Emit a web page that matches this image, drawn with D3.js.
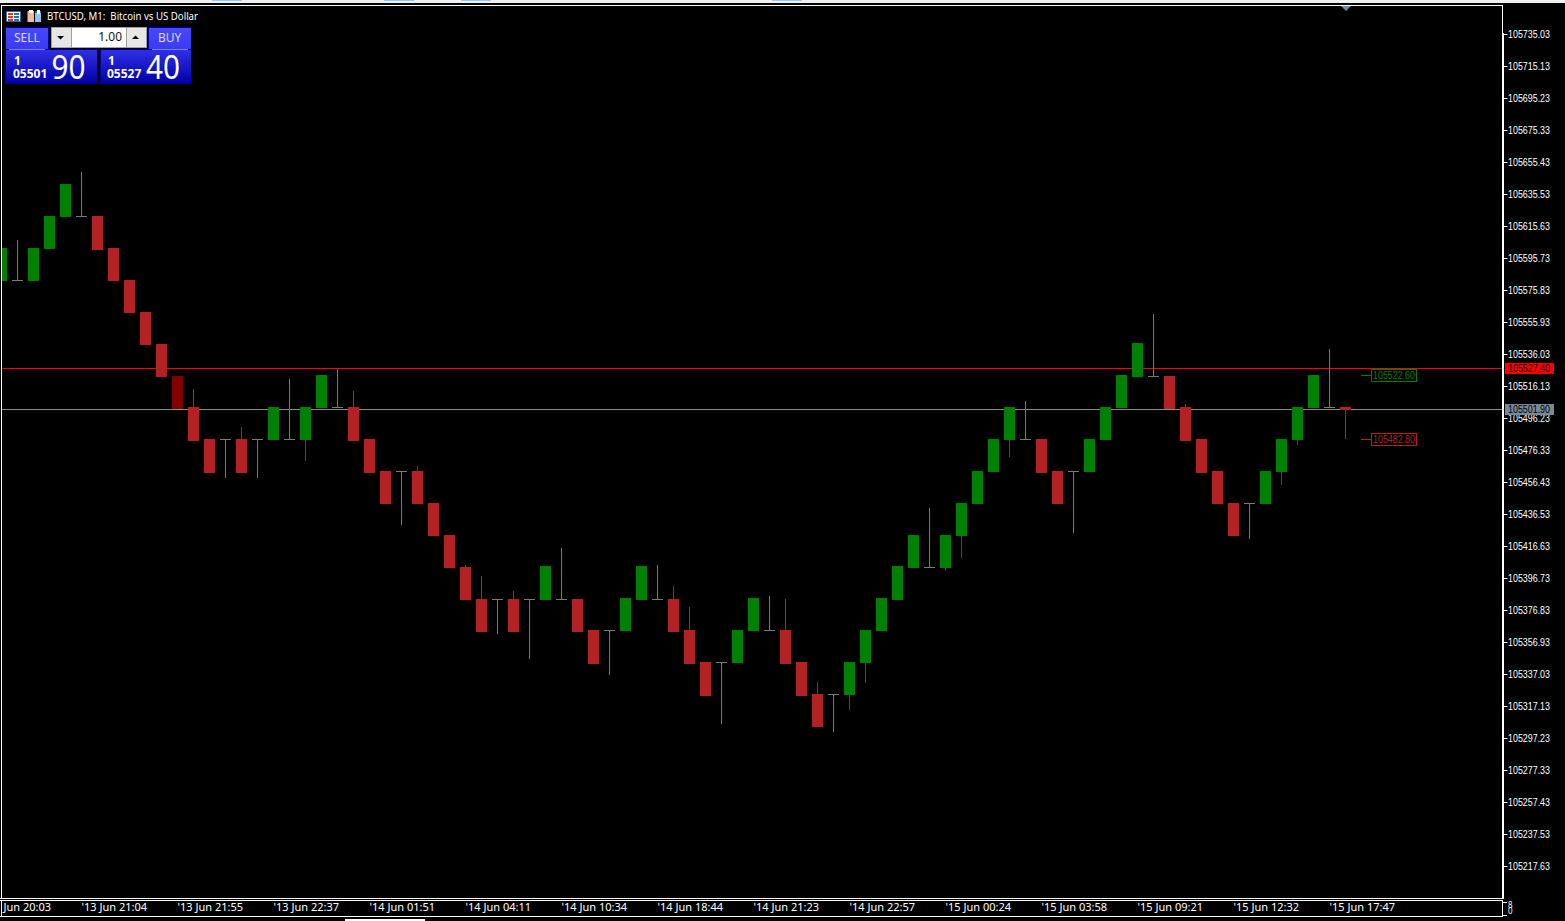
<!DOCTYPE html>
<html>
<head>
<meta charset="utf-8">
<title>BTCUSD, M1</title>
<script src="https://cdn.jsdelivr.net/npm/d3@7"></script>
<style>
  html, body { margin: 0; padding: 0; background: #000; overflow: hidden; }
  svg { display: block; }
  text { font-family: "Noto Sans", "Open Sans", sans-serif; }
  .narrow { font-family: "Liberation Sans", sans-serif; font-size: 11px; }
</style>
</head>
<body>
<svg id="chart" width="1565" height="921"></svg>
<script>
// candles, oldest first
const opens = [105581.43,105582.05,105581.43,105601.33,105621.23,105621.85,105621.85,105601.95,105582.05,105562.15,
  105542.25,105522.35,105503.07,105483.17,105483.17,105483.17,105483.17,105482.55,105483.17,105482.55,
  105502.45,105503.07,105503.07,105483.17,105463.27,105463.27,105463.27,105443.37,105423.47,105403.57,
  105383.67,105383.67,105383.67,105383.67,105383.05,105383.67,105383.67,105364.39,105364.39,105363.77,
  105383.05,105383.67,105383.67,105364.39,105344.49,105344.49,105343.87,105363.77,105364.39,105364.39,
  105344.49,105324.59,105324.59,105323.97,105343.87,105363.77,105383.05,105402.95,105403.57,105402.95,
  105422.85,105442.75,105462.65,105482.55,105483.17,105483.17,105463.27,105463.27,105462.65,105482.55,
  105502.45,105521.72,105522.35,105522.35,105503.07,105483.17,105463.27,105443.37,105443.37,105442.75,
  105462.65,105482.55,105502.45,105503.07,105503.07];
const highs = [105601.95,105606.92,105601.95,105621.85,105641.75,105649.21,105621.85,105601.95,105582.05,105562.15,
  105542.25,105522.35,105514.26,105483.17,105483.17,105490.64,105483.17,105503.07,105520.48,105503.07,
  105522.97,105526.70,105513.02,105483.17,105463.27,105463.27,105466.38,105443.37,105423.47,105404.81,
  105397.97,105383.67,105388.65,105383.67,105404.19,105415.39,105383.67,105364.39,105364.39,105384.29,
  105404.19,105404.81,105391.75,105378.70,105344.49,105344.49,105364.39,105384.29,105385.54,105383.67,
  105344.49,105332.05,105324.59,105344.49,105364.39,105384.29,105404.19,105423.47,105440.26,105423.47,
  105443.37,105463.27,105483.17,105503.07,105506.80,105483.17,105463.27,105463.27,105483.17,105503.07,
  105522.97,105542.87,105560.90,105522.35,105504.94,105483.17,105463.27,105443.37,105443.37,105463.27,
  105483.17,105503.07,105522.97,105539.14,105503.07];
const lows = [105581.43,105582.05,105581.43,105601.33,105621.23,105621.85,105600.70,105581.43,105561.53,105541.63,
  105521.72,105501.83,105481.93,105462.03,105458.92,105462.03,105458.92,105482.55,105483.17,105469.49,
  105502.45,105503.07,105481.93,105462.03,105442.75,105429.69,105442.75,105422.85,105402.95,105383.05,
  105363.15,105361.90,105363.15,105346.36,105383.05,105383.67,105363.15,105343.25,105336.41,105363.77,
  105383.05,105383.67,105363.15,105343.25,105323.35,105305.94,105343.87,105363.77,105364.39,105343.25,
  105323.35,105304.07,105300.96,105314.64,105331.43,105363.77,105383.05,105402.95,105403.57,105401.08,
  105409.17,105442.75,105462.65,105471.98,105483.17,105462.03,105442.75,105424.71,105462.65,105482.55,
  105502.45,105521.72,105522.35,105501.83,105481.93,105462.03,105442.75,105422.85,105420.98,105442.75,
  105454.56,105479.44,105502.45,105503.07,105483.17];
const closes = [105601.95,105582.05,105601.95,105621.85,105641.75,105621.85,105600.70,105581.43,105561.53,105541.63,
  105521.72,105501.83,105481.93,105462.03,105483.17,105462.03,105483.17,105503.07,105483.17,105503.07,
  105522.97,105503.07,105481.93,105462.03,105442.75,105463.27,105442.75,105422.85,105402.95,105383.05,
  105363.15,105383.67,105363.15,105383.67,105404.19,105383.67,105363.15,105343.25,105364.39,105384.29,
  105404.19,105383.67,105363.15,105343.25,105323.35,105344.49,105364.39,105384.29,105364.39,105343.25,
  105323.35,105304.07,105324.59,105344.49,105364.39,105384.29,105404.19,105423.47,105403.57,105423.47,
  105443.37,105463.27,105483.17,105503.07,105483.17,105462.03,105442.75,105463.27,105483.17,105503.07,
  105522.97,105542.87,105522.35,105501.83,105481.93,105462.03,105442.75,105422.85,105443.37,105463.27,
  105483.17,105503.07,105522.97,105503.07,105501.20];
const selectedBars = [11];

const priceTicks = [105735.03,105715.13,105695.23,105675.33,105655.43,105635.53,105615.63,105595.73,105575.83,
  105555.93,105536.03,105516.13,105496.23,105476.33,105456.43,105436.53,105416.63,105396.73,105376.83,
  105356.93,105337.03,105317.13,105297.23,105277.33,105257.43,105237.53,105217.63];

const timeLabels = ["'13 Jun 20:03","'13 Jun 21:04","'13 Jun 21:55","'13 Jun 22:37","'14 Jun 01:51","'14 Jun 04:11",
  "'14 Jun 10:34","'14 Jun 18:44","'14 Jun 21:23","'14 Jun 22:57","'15 Jun 00:24","'15 Jun 03:58","'15 Jun 09:21",
  "'15 Jun 12:32","'15 Jun 17:47"];
const timeLabelBars = [-1,5,11,17,23,29,35,41,47,53,59,65,71,77,83];

const askPrice = 105527.40, bidPrice = 105501.90;
const barHigh = 105522.60, barLow = 105482.80;

const GREEN = '#008000', RED = '#b22222', DARKRED = '#800000', DOJI = '#787878';
const PRICE_TEXT_WIDTH = 42; // the terminal font is narrower than anything installed

const svg = d3.select('#chart');

const xScale = d3.scaleLinear().domain([0, 84]).range([1.5, 1345.5]);
const yScale = d3.scaleLinear().domain([105735.03, 105217.63]).range([34, 866]);

// top strip of the terminal window
svg.append('rect').attr('width', 1565).attr('height', 3).attr('fill', '#f0f0f0');
svg.selectAll('.tab').data([212, 384, 461, 772]).join('rect')
    .attr('class', 'tab').attr('x', d => d).attr('width', 30).attr('height', 1).attr('fill', '#90c8f6');

// plot area clip
svg.append('clipPath').attr('id', 'plot').append('rect')
    .attr('x', 2).attr('y', 6).attr('width', 1500).attr('height', 892);
svg.append('clipPath').attr('id', 'timeClip').append('rect')
    .attr('x', 2).attr('y', 901).attr('width', 1500).attr('height', 15);

const plot = svg.append('g').attr('clip-path', 'url(#plot)');

// ask and bid lines sit behind the candles
plot.append('rect').attr('x', 2).attr('width', 1500).attr('height', 1)
    .attr('y', Math.round(yScale(askPrice))).attr('fill', '#ff0000');
plot.append('rect').attr('x', 2).attr('width', 1500).attr('height', 1)
    .attr('y', Math.round(yScale(bidPrice))).attr('fill', '#8a8f94');

const candles = opens.map((o, i) => ({i: i, o: o, h: highs[i], l: lows[i], c: closes[i]}));
const candleColor = d => {
    if (d.o === d.c) return DOJI;
    if (selectedBars.includes(d.i)) return DARKRED;
    return d.c > d.o ? GREEN : RED;
};

// wicks
plot.selectAll('.wick').data(candles).join('rect')
    .attr('class', 'wick')
    .attr('x', d => xScale(d.i) - 0.5)
    .attr('width', 1)
    .attr('y', d => Math.round(yScale(d.h)))
    .attr('height', d => Math.round(yScale(d.l)) - Math.round(yScale(d.h)))
    .attr('fill', candleColor);

// bodies, a doji is one pixel row
plot.selectAll('.body').data(candles).join('rect')
    .attr('class', 'body')
    .attr('x', d => xScale(d.i) - 5.5)
    .attr('width', 11)
    .attr('y', d => Math.round(yScale(Math.max(d.o, d.c))))
    .attr('height', d => Math.max(1, Math.round(yScale(Math.min(d.o, d.c))) - Math.round(yScale(Math.max(d.o, d.c)))))
    .attr('fill', candleColor);

// frame
const white = '#ffffff';
const line = (x, y, w, h, fill) => svg.append('rect')
    .attr('x', x).attr('y', y).attr('width', w).attr('height', h).attr('fill', fill || white);
line(1, 5, 1502, 1);
line(1, 5, 1, 893);
line(1502, 5, 1, 28);
line(1502, 33, 2, 866);
line(0, 898, 1504, 1);
line(0, 900, 1503, 1);
line(1, 900, 1, 17);
line(0, 916, 1503, 1);
line(1502, 900, 1, 17);
line(345, 919, 80, 2);

// marker at the top of the chart
svg.append('path').attr('d', 'M1341,6 L1351,6 L1346,11 Z').attr('fill', '#778899');

// price axis
const yAxis = d3.axisRight(yScale)
    .tickValues(priceTicks)
    .tickFormat(d3.format('.2f'))
    .tickSize(4)
    .tickPadding(0.5);
const yAxisG = svg.append('g').attr('transform', 'translate(1503.5,0)').call(yAxis);
yAxisG.select('.domain').remove();
yAxisG.selectAll('.tick line').attr('stroke', white);
yAxisG.selectAll('.tick text')
    .attr('class', 'narrow').attr('fill', white)
    .attr('textLength', PRICE_TEXT_WIDTH).attr('lengthAdjust', 'spacingAndGlyphs');

// time axis
const xAxis = d3.axisBottom(xScale)
    .tickValues(timeLabelBars)
    .tickFormat((d, i) => timeLabels[i])
    .tickSize(0)
    .tickPadding(0);
const xAxisG = svg.append('g').attr('clip-path', 'url(#timeClip)')
    .append('g').attr('transform', 'translate(0,901)').call(xAxis);
xAxisG.select('.domain').remove();
xAxisG.selectAll('.tick text')
    .attr('text-anchor', 'start')
    .attr('x', -0.5)
    .attr('dy', '0.95em')
    .attr('fill', white)
    .style('font-size', '11px');

// corner of the two axes
line(1503, 902, 4, 1);
line(1503, 915, 4, 1);
svg.selectAll('.corner').data(['8', '0']).join('text')
    .attr('class', 'corner')
    .attr('x', 1508).attr('y', (d, i) => 908 + i * 6)
    .attr('fill', white).style('font-size', '8px').text(d => d);

// ask and bid labels on the price axis
const priceText = (x, y, fill, price) => svg.append('text')
    .attr('class', 'narrow').attr('x', x).attr('y', y).attr('fill', fill)
    .attr('textLength', PRICE_TEXT_WIDTH).attr('lengthAdjust', 'spacingAndGlyphs')
    .text(price.toFixed(2));
const priceTag = (price, fill) => {
    const y = Math.round(yScale(price));
    svg.append('rect').attr('x', 1505).attr('y', y - 5).attr('width', 49).attr('height', 11).attr('fill', fill);
    priceText(1508, y + 4, '#000', price);
};
priceTag(askPrice, '#ff0000');
priceTag(bidPrice, '#778899');

// high and low tags next to the last bar
const rangeTag = (price, color) => {
    const y = Math.floor(yScale(price));
    line(1361, y, 10, 1, color);
    svg.append('rect').attr('x', 1371.5).attr('y', y - 5.5).attr('width', 45).attr('height', 12)
        .attr('fill', '#000').attr('stroke', color);
    priceText(1373, y + 4, color, price);
};
rangeTag(barHigh, GREEN);
rangeTag(barLow, RED);

// chart title and icons
svg.append('text').attr('x', 47).attr('y', 20).attr('fill', white).style('font-size', '10.5px')
    .style('white-space', 'pre')
    .attr('textLength', 151).attr('lengthAdjust', 'spacingAndGlyphs')
    .text('BTCUSD, M1:  Bitcoin vs US Dollar');
line(6, 11, 15, 11, '#2a6db0');
line(7, 12, 13, 9, white);
[13, 16, 19].forEach(y => {
    line(8, y, 5, 2, '#e0352b');
    line(14, y, 5, 2, '#2a6db0');
});
line(27, 11, 7, 11, '#f4b6a8');
line(27, 11, 1, 11, '#d0392b');
line(29, 10, 4, 3, white);
line(35, 11, 6, 11, '#8cc4ea');
line(35, 11, 6, 2, '#1f6fb5');
line(37, 10, 3, 4, white);

// one click trading panel
const defs = svg.append('defs');
const addGradient = (id, top, bottom) => {
    const g = defs.append('linearGradient').attr('id', id).attr('x1', 0).attr('y1', 0).attr('x2', 0).attr('y2', 1);
    g.append('stop').attr('offset', 0).attr('stop-color', top);
    g.append('stop').attr('offset', 1).attr('stop-color', bottom);
};
addGradient('btnTop', '#4848ff', '#3a3af0');
addGradient('btnLow', '#3030e6', '#0000a8');

const tradeBox = (x, y, w, h, fill) => svg.append('rect')
    .attr('x', x + 0.5).attr('y', y + 0.5).attr('width', w - 1).attr('height', h - 1)
    .attr('fill', fill).attr('stroke', '#000090');

const btnText = (x, y, size, txt, weight, anchor, fill) => svg.append('text')
    .attr('x', x).attr('y', y).attr('fill', fill || white)
    .attr('text-anchor', anchor || 'start')
    .style('font-size', size + 'px').style('font-weight', weight || 400).text(txt);

const sideBlock = (topX, topW, lowX, lowW, label, labelX, big, head, tail, headX, bigX) => {
    tradeBox(lowX, 49, lowW, 35, 'url(#btnLow)');
    tradeBox(topX, 27, topW, 23, 'url(#btnTop)');
    svg.append('rect').attr('x', topX + 4).attr('y', 49).attr('width', topW - 8).attr('height', 1).attr('fill', '#8080ff');
    btnText(labelX, 42, 12, label, 400, 'start', '#dcdcff');
    btnText(headX + 1, 65, 12, head, 700);
    btnText(headX, 78, 12, tail, 700);
    btnText(bigX, 79, 33, big).attr('textLength', 34).attr('lengthAdjust', 'spacingAndGlyphs');
};
sideBlock(5, 44, 5, 93, 'SELL', 14, '90', '1', '05501', 13, 51.5);
sideBlock(148, 44, 100, 92, 'BUY', 158, '40', '1', '05527', 107, 146);

// volume spinner
line(51, 27, 96, 21, '#a0a0a0');
line(52, 28, 19, 19, '#e6e6e6');
line(72, 28, 54, 19, white);
line(127, 28, 19, 19, '#e6e6e6');
svg.append('path').attr('d', 'M57,36 L64,36 L60.5,39.5 Z').attr('fill', '#000');
svg.append('path').attr('d', 'M132,39 L139,39 L135.5,35.5 Z').attr('fill', '#000');
btnText(122, 41, 12, '1.00', 400, 'end', '#111');
</script>
</body>
</html>
